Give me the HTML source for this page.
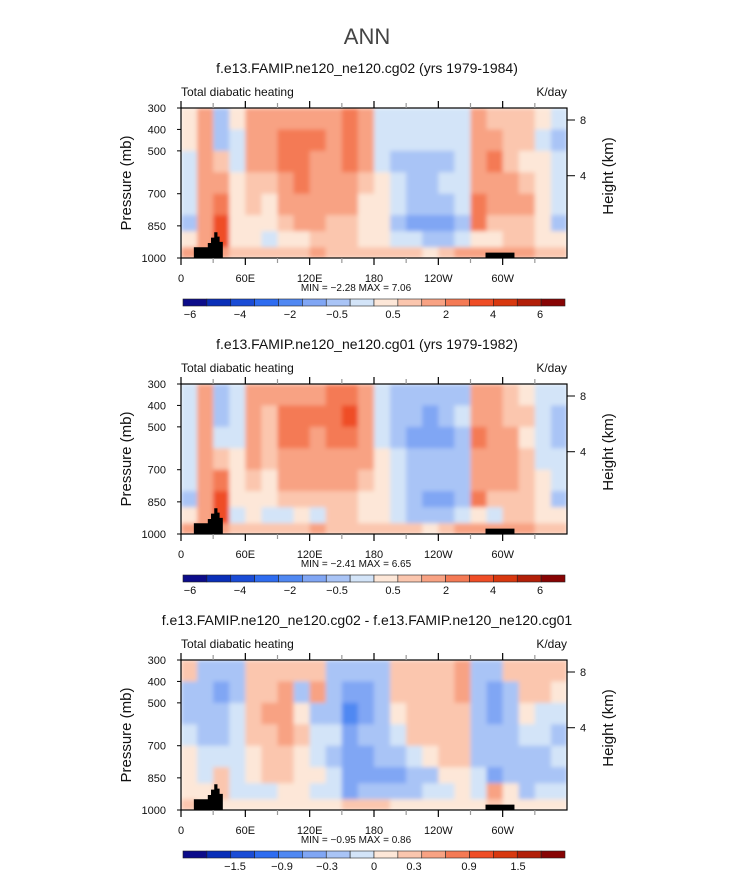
<!DOCTYPE html>
<html><head><meta charset="utf-8"><style>
body{margin:0;background:#fff;width:733px;height:873px;overflow:hidden}
svg text{font-family:"Liberation Sans",sans-serif}
</style></head><body>
<svg id="fig" width="733" height="873" viewBox="0 0 733 873">
<defs><filter id="soft" x="-2%" y="-2%" width="104%" height="104%"><feGaussianBlur stdDeviation="2"/></filter></defs>
<text x="367" y="44" font-size="22" text-anchor="middle" fill="#444">ANN</text>
</svg>
<script>
const NS="http://www.w3.org/2000/svg";
const fig=document.getElementById('fig');
const pEdges=[300,400,500,600,700,800,875,950,1000];
const lonEdges=[0,15,30,45,60,75,90,105,120,135,150,165,180,195,210,225,240,255,270,285,300,315,330,345,360];
const xTickLabels=["0","60E","120E","180","120W","60W"];
const xTickLons=[0,60,120,180,240,300];
const yTickP=[300,400,500,700,850,1000];
const hTickKm=[8,4];
const hTickP=[356,616];
const colors=["#0c0c8a","#0a2fb8","#1a4cd6","#2e6cf0","#5088f2","#80a6f4","#a9c4f6","#d3e4f8","#fde7d8","#fbc6ae","#f8a283","#f47a55","#ef4d26","#d8380f","#b21f08","#870404"];
const levelsFull=[-6,-5,-4,-3,-2,-1,-0.5,0,0.5,1,2,3,4,5,6];
const levelsDiff=[-1.8,-1.5,-1.2,-0.9,-0.6,-0.3,-0.15,0,0.15,0.3,0.6,0.9,1.2,1.5,1.8];
const cbLabelsFull=["−6","−4","−2","−0.5","0.5","2","4","6"];
const cbLabelsDiff=["−1.5","−0.9","−0.3","0","0.3","0.9","1.5"];
const vals1=[
[0.3,0.3,-0.3,-0.3,-0.3,-0.7,0.3,1.5],[1.5,1.5,1.5,1.5,1.2,1.5,1,1],[-0.7,-0.7,0.7,1,2.5,3.5,3,1],[0.3,-0.3,-0.3,0.3,0.3,0.3,0.3,0.7],
[1.5,1.5,1.2,0.7,0.7,0.3,0.3,0.7],[1.2,1.2,1.2,0.7,0.3,0.3,-0.3,0.7],[1.5,2.5,2.5,1.5,1.2,0.7,0.3,0.7],[1.5,2.2,2.2,2,1.5,1.2,0.3,0.7],
[1.5,2.5,1.5,1.5,1.2,1.2,0.7,1],[1.5,1.5,1.5,1.2,1.2,0.7,0.7,0.7],[2,2.5,2.2,1.5,1.2,0.7,0.7,0.7],[1.2,1.2,1.2,0.7,0.3,0.3,0.3,0.7],
[-0.3,-0.3,-0.3,0.3,0.3,0.3,0.3,0.7],[-0.3,-0.3,-0.7,-0.3,-0.3,-0.7,-0.3,0.7],[-0.3,-0.3,-0.7,-0.7,-0.7,-1.5,-0.3,0.7],[-0.3,-0.3,-0.7,-0.7,-0.7,-1.5,-0.7,0.3],
[-0.3,-0.3,-0.7,-0.3,-0.7,-1.2,-0.7,0.7],[-0.3,-0.3,-0.3,-0.3,-0.3,-0.7,-0.3,1],[1,1.5,1.5,1.5,2.5,2.5,0.3,1],[0.7,1.2,2.5,1.5,1.2,0.7,0.3,1],
[0.7,0.7,0.7,1.2,1.2,0.7,0.7,1],[0.7,0.7,0.3,0.7,1.2,0.7,0.7,1],[0.3,-0.3,0.3,0.3,0.3,0.3,0.3,0.7],[-0.3,-0.7,-0.3,-0.3,-0.3,-0.7,0.3,0.7]];
const vals2=[
[-0.3,-0.3,-0.3,-0.3,-0.3,-0.7,0.3,1.5],[1.5,1.5,1.5,1.5,1.2,1.5,1,1],[-0.7,-0.7,-0.3,0.7,2.5,3.5,3,1],[-0.3,-0.3,-0.3,0.3,0.3,0.3,-0.3,0.7],
[1.5,1.5,1.5,1.2,0.7,0.3,0.3,0.7],[1.2,0.7,0.7,0.7,0.3,0.3,-0.3,0.7],[1.5,2.2,2.2,1.5,1.2,0.7,-0.3,0.7],[1.5,2.2,2.5,1.5,1.2,0.7,0.3,0.7],
[1.5,2.2,1.5,1.5,1.2,0.7,-0.3,1],[2,2.5,2,1.5,1.2,0.7,0.7,0.7],[2.2,3.5,2.5,1.5,1.2,0.7,0.7,0.7],[1.2,1.2,1.2,1.2,0.7,0.3,0.3,0.7],
[-0.3,-0.3,-0.3,0.3,0.3,0.3,0.3,0.7],[-0.7,-0.7,-0.7,-0.3,-0.3,-0.3,-0.3,0.7],[-0.7,-0.7,-1.2,-0.7,-0.7,-0.7,-0.7,0.7],[-0.7,-1.2,-1.5,-0.7,-0.7,-1.2,-0.7,0.3],
[-0.7,-0.7,-1.2,-0.7,-0.7,-1.2,-0.7,0.7],[-0.7,-0.3,-0.7,-0.7,-0.7,-0.7,-0.3,1],[1,1.5,2,1.5,1.5,2.5,0.3,1],[1.2,1.5,1.5,1.5,1.2,0.7,-0.3,1],
[0.7,0.7,1.2,1.2,1.2,0.7,0.7,1],[0.3,0.7,0.3,0.7,0.7,0.7,0.7,1],[-0.3,-0.3,-0.3,-0.3,0.3,0.3,0.3,0.7],[-0.3,-0.7,-0.7,-0.3,-0.3,-0.7,0.3,0.7]];
const vals3=[
[0.2,-0.2,-0.2,-0.1,0.1,0.1,0.1,0.2],[-0.2,-0.2,-0.2,-0.2,-0.1,-0.1,0.1,0.1],[-0.2,-0.4,-0.2,-0.2,-0.1,0.2,0.2,0.1],[-0.2,-0.2,-0.1,-0.1,-0.1,-0.1,-0.1,0.1],
[0.2,0.2,0.2,0.2,0.1,0.1,-0.1,0.1],[0.2,0.2,0.35,0.2,0.2,0.2,-0.1,0.1],[0.2,0.35,0.35,0.35,0.2,0.2,0.1,0.1],[0.2,-0.2,0.1,0.2,0.1,0.1,0.1,0.1],
[0.2,0.35,-0.2,-0.1,-0.1,0.1,-0.1,0.1],[-0.2,-0.2,-0.2,-0.1,-0.2,-0.1,-0.1,0.1],[-0.2,-0.4,-0.7,-0.4,-0.4,-0.4,-0.4,0.2],[-0.2,-0.4,-0.4,-0.2,-0.4,-0.4,-0.2,0.2],
[-0.2,-0.2,-0.2,-0.2,-0.2,-0.4,-0.2,0.2],[0.2,0.2,0.1,-0.1,-0.2,-0.4,-0.2,0.1],[0.2,0.2,0.2,0.2,-0.1,-0.2,-0.2,0.1],[0.2,0.2,0.2,0.2,0.1,-0.2,-0.1,0.1],
[0.2,0.2,0.2,0.2,0.2,0.1,-0.1,0.1],[0.35,0.35,0.2,0.2,0.2,0.1,0.1,0.1],[-0.2,-0.2,-0.2,-0.2,-0.2,-0.1,-0.1,0.1],[-0.2,-0.4,-0.4,-0.2,-0.2,-0.4,0.35,0.2],
[0.2,-0.2,-0.2,-0.2,-0.2,-0.2,0.1,0.1],[0.2,0.2,0.1,-0.1,-0.2,-0.2,-0.2,0.1],[0.2,0.2,-0.1,-0.1,-0.2,-0.2,-0.1,0.1],[0.2,0.1,-0.1,-0.2,-0.1,-0.2,-0.1,0.1]];
const terrainAfrica=[[12,1000],[12,950],[25,950],[25,930],[28,930],[28,905],[31,905],[31,880],[34,880],[34,900],[36,900],[36,925],[39,925],[39,1000]];
const terrainAmerica=[[284,1000],[284,975],[311,975],[311,1000]];
const panels=[
 {title:"f.e13.FAMIP.ne120_ne120.cg02 (yrs 1979-1984)",vals:vals1,levels:levelsFull,cbl:cbLabelsFull,cbx:[190,240,290,337,393,446,493,540],min:"−2.28",max:"7.06"},
 {title:"f.e13.FAMIP.ne120_ne120.cg01 (yrs 1979-1982)",vals:vals2,levels:levelsFull,cbl:cbLabelsFull,cbx:[190,240,290,337,393,446,493,540],min:"−2.41",max:"6.65"},
 {title:"f.e13.FAMIP.ne120_ne120.cg02 - f.e13.FAMIP.ne120_ne120.cg01",vals:vals3,levels:levelsDiff,cbl:cbLabelsDiff,cbx:[235,282,327,374,414,469,518],min:"−0.95",max:"0.86"}];
const X0=181,X1=567,PY0=108,PY1=258;
function mk(tag,attrs,parent){const e=document.createElementNS(NS,tag);for(const k in attrs)e.setAttribute(k,attrs[k]);(parent||fig).appendChild(e);return e;}
function colorFor(v,lev){let i=0;while(i<lev.length&&v>=lev[i])i++;return colors[i];}
const defs=fig.querySelector('defs');
panels.forEach((pn,k)=>{
 const dy=276*k;
 const g=mk('g',{});
 
 
 const xs=lon=>X0+(X1-X0)*lon/360;
 const ys=p=>PY0+dy+(PY1-PY0)*(p-300)/700;
 const cp=mk('clipPath',{id:'clip'+k},defs);
 mk('rect',{x:X0,y:PY0+dy,width:X1-X0,height:PY1-PY0},cp);
 const t=mk('text',{x:367,y:73+dy,'font-size':14,'text-anchor':'middle',fill:'#111'},g);t.textContent=pn.title;
 
 
 const t2=mk('text',{x:181,y:96+dy,'font-size':12,fill:'#111'},g);t2.textContent="Total diabatic heating";
 
 
 const t3=mk('text',{x:567,y:96+dy,'font-size':12,fill:'#111','text-anchor':'end'},g);t3.textContent="K/day";
 
 
 const clipG=mk('g',{'clip-path':'url(#clip'+k+')'},g);
 const cells=mk('g',{filter:'url(#soft)'},clipG);
 
 
 pn.vals.forEach((col,ci)=>{col.forEach((v,ri)=>{
   const r=mk('rect',{x:xs(lonEdges[ci]),y:ys(pEdges[ri]),width:xs(lonEdges[ci+1])-xs(lonEdges[ci])+0.5,height:ys(pEdges[ri+1])-ys(pEdges[ri])+0.5,fill:colorFor(v,pn.levels)},cells);
   
   
 });});
 [terrainAfrica,terrainAmerica].forEach((tr,ti)=>{
   const pl=mk('polygon',{points:tr.map(q=>xs(q[0])+','+ys(q[1])).join(' '),fill:'#000'},g);
   
   
 });
 const fr=mk('rect',{x:X0,y:PY0+dy,width:X1-X0,height:PY1-PY0,fill:'none',stroke:'#000','stroke-width':1.2},g);
 
 
 for(let lon=0;lon<360;lon+=30){
   const maj=lon%60===0;
   mk('line',{x1:xs(lon),x2:xs(lon),y1:PY1+dy,y2:PY1+dy+(maj?7:5),stroke:maj?'#000':'#999','stroke-width':1.2},g);
   mk('line',{x1:xs(lon),x2:xs(lon),y1:PY0+dy,y2:PY0+dy-(maj?7:5),stroke:maj?'#000':'#999','stroke-width':1.2},g);
 }
 xTickLabels.forEach((s,i)=>{const e=mk('text',{x:xs(xTickLons[i]),y:282+dy,'font-size':11,'text-anchor':'middle',fill:'#111'},g);e.textContent=s;
   
   });
 yTickP.forEach(p=>{mk('line',{x1:X0-4,x2:X0,y1:ys(p),y2:ys(p),stroke:'#000'},g);
   const e=mk('text',{x:166,y:ys(p)+4,'font-size':11,'text-anchor':'end',fill:'#111'},g);e.textContent=p;
   
   });
 hTickP.forEach((p,i)=>{mk('line',{x1:X1,x2:X1+8,y1:ys(p),y2:ys(p),stroke:'#000'},g);
   const e=mk('text',{x:583,y:ys(p)+4,'font-size':11,'text-anchor':'middle',fill:'#111'},g);e.textContent=hTickKm[i];
   
   });
 const yt=mk('text',{x:0,y:0,'font-size':15,'text-anchor':'middle',fill:'#111',transform:`translate(131,${183+dy}) rotate(-90)`},g);yt.textContent="Pressure (mb)";
 
 
 const ht=mk('text',{x:0,y:0,'font-size':15,'text-anchor':'middle',fill:'#111',transform:`translate(613,${176+dy}) rotate(-90)`},g);ht.textContent="Height (km)";
 
 
 const mm=mk('text',{x:356,y:291+dy,'font-size':10,'text-anchor':'middle',fill:'#111','xml:space':'preserve'},g);mm.textContent="MIN =   "+pn.min+"   MAX =    "+pn.max;
 
 
 const cb=mk('g',{},g);
 
 
 const bw=(565-183)/16;
 colors.forEach((c,i)=>{const r=mk('rect',{x:183+i*bw,y:299+dy,width:bw,height:7,fill:c,stroke:'#222','stroke-width':0.6},cb);
   
   });
 pn.cbl.forEach((s,i)=>{const e=mk('text',{x:pn.cbx[i],y:318+dy,'font-size':11,'text-anchor':'middle',fill:'#111'},cb);e.textContent=s;
   
   });
});
</script>
</body></html>
